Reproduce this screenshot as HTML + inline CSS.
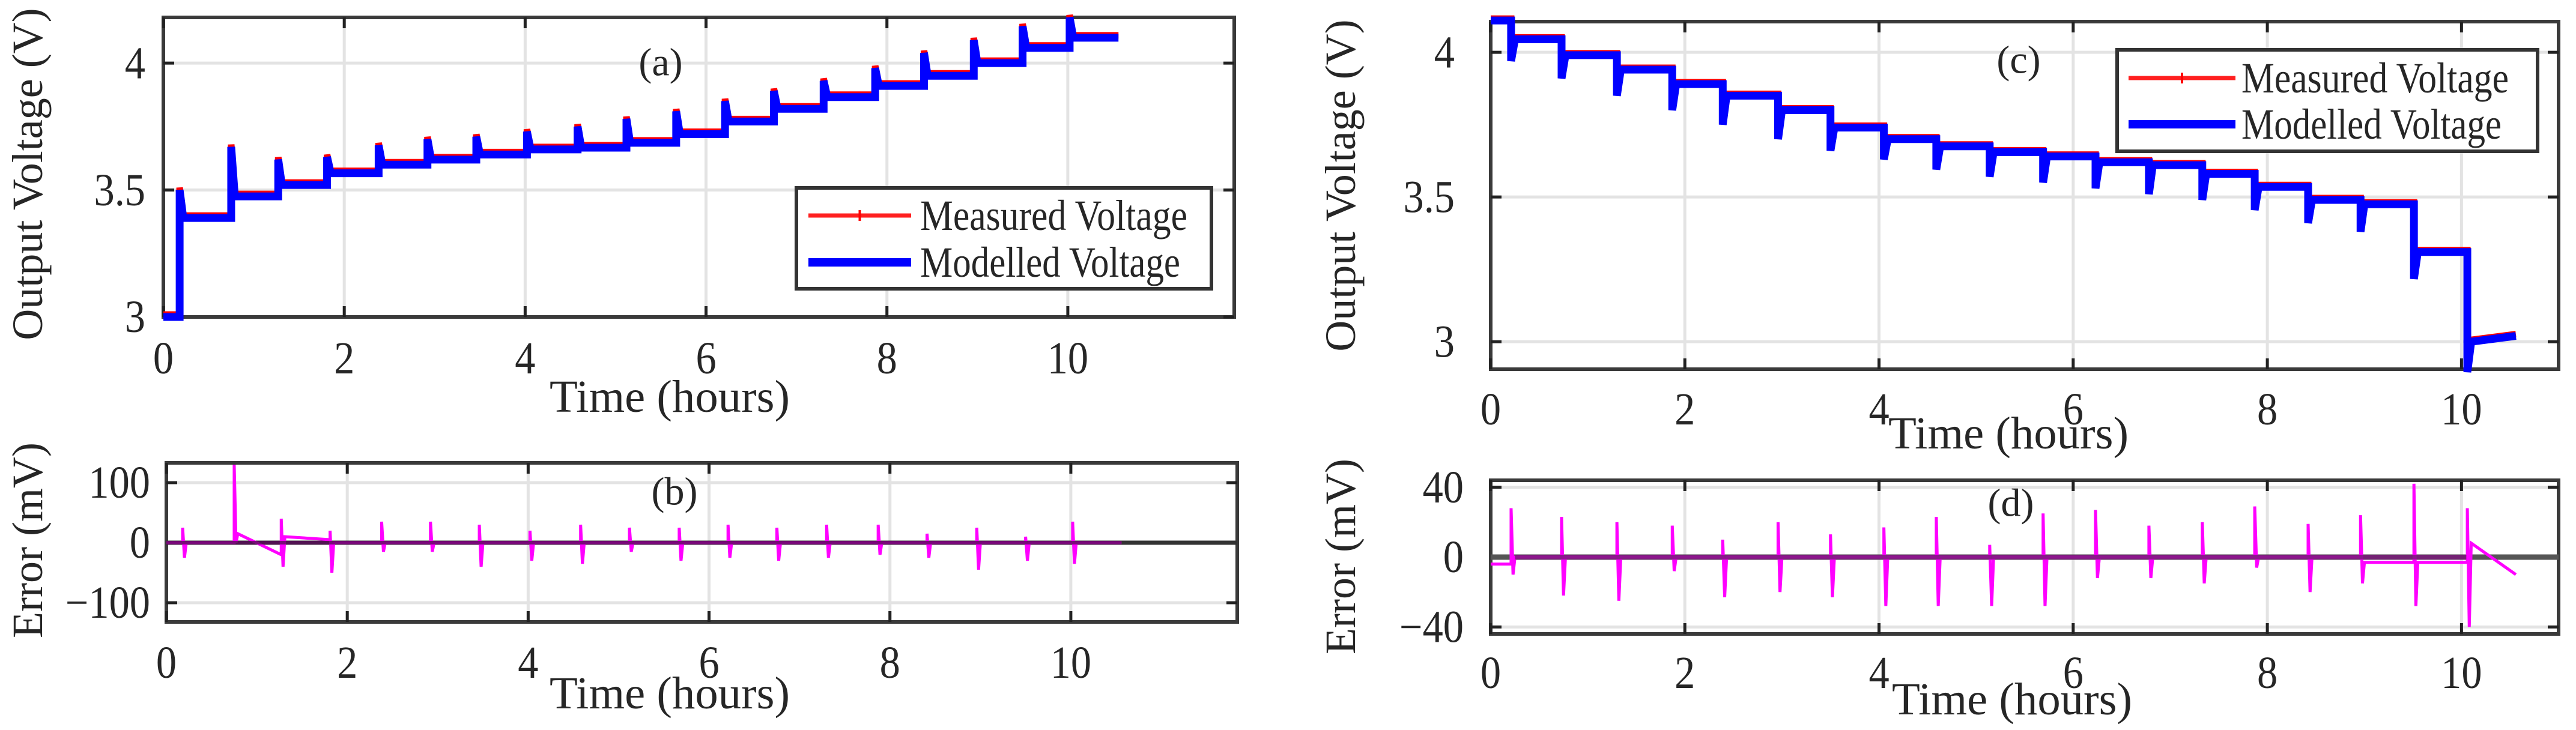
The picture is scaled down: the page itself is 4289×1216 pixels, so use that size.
<!DOCTYPE html>
<html><head><meta charset="utf-8"><style>
html,body{margin:0;padding:0;background:#fff;width:4289px;height:1216px;overflow:hidden}
svg text{font-family:"Liberation Serif",serif;fill:#262626}
</style></head><body>
<svg id="fig" width="4289" height="1216" viewBox="0 0 4289 1216" xmlns="http://www.w3.org/2000/svg"></svg>
<script>
// ---------- DATA ----------
// (a) charge test
const chgPulseTimes = [0.18,0.75,1.27,1.81,2.38,2.92,3.46,4.02,4.58,5.12,5.67,6.21,6.75,7.30,7.87,8.41,8.96,9.50,10.02];
const chgStartLevel = 3.0;
const chgPeakLevels = [3.50,3.67,3.62,3.63,3.676,3.70,3.71,3.73,3.75,3.78,3.81,3.85,3.89,3.93,3.98,4.04,4.09,4.145,4.18];
const chgRestLevels = [3.39,3.475,3.52,3.566,3.60,3.62,3.64,3.66,3.667,3.686,3.72,3.77,3.82,3.866,3.91,3.95,4.0,4.06,4.10];
const chgEndTime = 10.56;
// (b) charge error (mV)
const chgErrUp   = [25,130,40,20,35,35,30,20,30,25,25,30,25,30,30,15,25,10,35];
const chgErrDown = [-25,0,-40,-50,-15,-15,-40,-30,-35,-15,-30,-25,-30,-25,-20,-25,-45,-30,-35];
const chgErrAfter= [0,15,10,0,0,0,0,0,0,0,0,0,0,0,0,0,0,0,0];
const chgErrBefore=[0,0,-20,5,0,0,0,0,0,0,0,0,0,0,0,0,0,0,0];
// (c) discharge test
const disPulseTimes = [0.21,0.73,1.30,1.87,2.39,2.96,3.50,4.05,4.59,5.14,5.69,6.23,6.78,7.33,7.87,8.42,8.96,9.51,10.06];
const disStartLevel = 4.11;
const disDipLevels  = [3.97,3.91,3.85,3.80,3.75,3.70,3.66,3.63,3.595,3.57,3.55,3.53,3.51,3.49,3.455,3.41,3.38,3.217,2.895];
const disRestLevels = [4.045,3.99,3.94,3.89,3.85,3.80,3.74,3.70,3.675,3.655,3.64,3.62,3.61,3.58,3.535,3.49,3.475,3.31,3.0];
const disEndLevel = 3.02;
const disEndTime = 10.56;
// (d) discharge error (mV)
const disErrUp   = [28,23,20,18,10,20,13,17,23,7,25,27,18,20,29,19,24,42,28];
const disErrDown = [-10,-22,-25,-8,-23,-20,-23,-28,-28,-28,-28,-12,-12,-15,-6,-20,-15,-28,-40];
const disErrAfter= [0,0,0,0,0,0,0,0,0,0,0,0,0,0,0,0,-3,-3,8];
const disErrStart = -4;
const disErrEnd = -10;

const xTicks = [0,2,4,6,8,10];
const ticksA = [3,3.5,4], ticksB = [-100,0,100], ticksC = [3,3.5,4], ticksD = [-40,0,40];
const tickLabA = ['3','3.5','4'], tickLabB = ['\u2212100','0','100'], tickLabC = ['3','3.5','4'], tickLabD = ['\u221240','0','40'];

// ---------- DRAWING ----------
const NS='http://www.w3.org/2000/svg', svg=document.getElementById('fig');
function mk(tag,attrs,parent){const e=document.createElementNS(NS,tag);for(const k in attrs)e.setAttribute(k,attrs[k]);(parent||svg).appendChild(e);return e;}

function axes(cfg){
  const g=mk('g',{});
  
  
  const sx=v=>cfg.x0+(v-cfg.xmin)/(cfg.xmax-cfg.xmin)*(cfg.x1-cfg.x0);
  const sy=v=>cfg.y1-(v-cfg.ymin)/(cfg.ymax-cfg.ymin)*(cfg.y1-cfg.y0);
  xTicks.forEach(t=>{const l=mk('line',{x1:sx(t),x2:sx(t),y1:cfg.y0,y2:cfg.y1,stroke:'#e3e3e3','stroke-width':5},g);
    });
  cfg.yt.forEach(t=>{const l=mk('line',{x1:cfg.x0,x2:cfg.x1,y1:sy(t),y2:sy(t),stroke:'#e3e3e3','stroke-width':5},g);
    });
  return {g,sx,sy};
}
function frame(cfg,A){
  const g=A.g;
  const r=mk('rect',{x:cfg.x0,y:cfg.y0,width:cfg.x1-cfg.x0,height:cfg.y1-cfg.y0,fill:'none',stroke:'#3a3a3a','stroke-width':6},g);
  
  xTicks.forEach(t=>{
    mk('line',{x1:A.sx(t),x2:A.sx(t),y1:cfg.y1,y2:cfg.y1-18,stroke:'#222','stroke-width':5},g);
    mk('line',{x1:A.sx(t),x2:A.sx(t),y1:cfg.y0,y2:cfg.y0+18,stroke:'#222','stroke-width':5},g);
    const tx=mk('text',{x:0,y:0,'font-size':76,'text-anchor':'middle','dominant-baseline':'central',transform:`translate(${A.sx(t)},${cfg.xty}) scale(0.9,1)`},g);
    tx.textContent=String(t);
    
  });
  cfg.yt.forEach((t,i)=>{
    mk('line',{x1:cfg.x0,x2:cfg.x0+18,y1:A.sy(t),y2:A.sy(t),stroke:'#222','stroke-width':5},g);
    mk('line',{x1:cfg.x1,x2:cfg.x1-18,y1:A.sy(t),y2:A.sy(t),stroke:'#222','stroke-width':5},g);
    const tx=mk('text',{x:0,y:0,'font-size':76,'text-anchor':'end','dominant-baseline':'central',transform:`translate(${cfg.ytx},${A.sy(t)}) scale(0.9,1)`},g);
    tx.textContent=cfg.ytl[i];
    
  });
  const xl=mk('text',{x:cfg.xlx,y:cfg.xly,'font-size':76,'text-anchor':'middle','dominant-baseline':'central',textLength:400,lengthAdjust:'spacingAndGlyphs'},g);
  xl.textContent='Time (hours)';
  
  const yl=mk('text',{x:0,y:0,'font-size':72,'text-anchor':'middle','dominant-baseline':'central',fill:'#333',transform:`translate(${cfg.ylx},${cfg.yly}) rotate(-90)`},g);
  yl.textContent=cfg.ylabel;
  
  const an=mk('text',{x:cfg.anx,y:cfg.any,'font-size':66,'text-anchor':'middle','dominant-baseline':'central',fill:'#111'},g);
  an.textContent=cfg.ann;
  
}
function stepPath(A,times,start,extremes,rests,endT,endLevel,dx){
  let d=`M${A.sx(0)},${A.sy(start)}`;let prev=start;
  times.forEach((t,i)=>{d+=` L${A.sx(t)},${A.sy(prev)} L${A.sx(t)},${A.sy(extremes[i])} L${A.sx(t+dx)},${A.sy(rests[i])}`;prev=rests[i];});
  d+=` L${A.sx(endT)},${A.sy(endLevel===undefined?prev:endLevel)}`;return d;
}
function errPath(A,times,up,down,after,before,start,endT,endV){
  let d=`M${A.sx(0)},${A.sy(start)}`;let prev=start;
  times.forEach((t,i)=>{const b=before?before[i]:prev;
    d+=` L${A.sx(t)},${A.sy(b)} L${A.sx(t)},${A.sy(up[i])} L${A.sx(t+0.02)},${A.sy(down[i])} L${A.sx(t+0.04)},${A.sy(after[i])}`;prev=after[i];});
  d+=` L${A.sx(endT)},${A.sy(endV===undefined?prev:endV)}`;return d;
}
function legend(x,y,w,h,lx0,lx1,tx,r1,r2,tl){
  const g=mk('g',{});
  
  mk('rect',{x,y,width:w,height:h,fill:'#fff',stroke:'#333','stroke-width':6},g);
  const e1=mk('g',{},g);
  mk('line',{x1:lx0,x2:lx1,y1:r1,y2:r1,stroke:'#ff2020','stroke-width':7},e1);
  mk('line',{x1:(lx0+lx1)/2,x2:(lx0+lx1)/2,y1:r1-9,y2:r1+9,stroke:'#ff0000','stroke-width':4},e1);
  const t1=mk('text',{x:tx,y:r1,'font-size':72,'dominant-baseline':'central',textLength:tl,lengthAdjust:'spacingAndGlyphs',fill:'#111'},e1);t1.textContent='Measured Voltage';
  const e2=mk('g',{},g);
  mk('line',{x1:lx0,x2:lx1,y1:r2,y2:r2,stroke:'#0000ff','stroke-width':14},e2);
  const t2=mk('text',{x:tx,y:r2,'font-size':72,'dominant-baseline':'central',textLength:tl-12,lengthAdjust:'spacingAndGlyphs',fill:'#111'},e2);t2.textContent='Modelled Voltage';
}

// Panel (a)
const cA={name:'panel-a-charge-voltage',x0:272,x1:2055,xmin:0,xmax:11.84,y0:29,y1:528,ymin:3,ymax:4.18,yt:ticksA,ytl:tickLabA,xty:597,ytx:242,xlx:1115,xly:661,ylx:46,yly:290,ylabel:'Output Voltage (V)',ann:'(a)',anx:1100,any:104};
const A=axes(cA);
let p=mk('path',{d:stepPath(A,chgPulseTimes,chgStartLevel,chgPeakLevels,chgRestLevels,chgEndTime,undefined,0.04),fill:'none',stroke:'#ff0000','stroke-width':11,transform:'translate(0,-4)'});

p=mk('path',{d:stepPath(A,chgPulseTimes,chgStartLevel,chgPeakLevels,chgRestLevels,chgEndTime,undefined,0.04),fill:'none',stroke:'#0000ff','stroke-width':13});

frame(cA,A);
legend(1326,313,691,168,1346,1517,1532,359,437,445);

// Panel (b)
const cB={name:'panel-b-charge-error',x0:277,x1:2060,xmin:0,xmax:11.84,y0:771,y1:1036,ymin:-132,ymax:133,yt:ticksB,ytl:tickLabB,xty:1104,ytx:250,xlx:1115,xly:1155,ylx:46,yly:900,ylabel:'Error (mV)',ann:'(b)',anx:1123,any:819};
const B=axes(cB);
mk('line',{x1:cB.x0,x2:cB.x1,y1:B.sy(0),y2:B.sy(0),stroke:'#333','stroke-width':7});
p=mk('path',{d:errPath(B,chgPulseTimes,chgErrUp,chgErrDown,chgErrAfter,chgErrBefore,0,chgEndTime,0),fill:'none',stroke:'#ff00ff','stroke-width':5});

mk('line',{x1:cB.x0,x2:B.sx(chgEndTime),y1:B.sy(0),y2:B.sy(0),stroke:'#5a0a5a','stroke-width':6,opacity:0.8});
frame(cB,B);

// Panel (c)
const cC={name:'panel-c-discharge-voltage',x0:2482,x1:4260,xmin:0,xmax:11.0,y0:36,y1:615,ymin:2.905,ymax:4.106,yt:ticksC,ytl:tickLabC,xty:682,ytx:2422,xlx:3344,xly:722,ylx:2232,yly:309,ylabel:'Output Voltage (V)',ann:'(c)',anx:3361,any:100};
const C=axes(cC);
p=mk('path',{d:stepPath(C,disPulseTimes,disStartLevel,disDipLevels,disRestLevels,disEndTime,disEndLevel,0.04),fill:'none',stroke:'#ff0000','stroke-width':11,transform:'translate(0,-3)'});

p=mk('path',{d:stepPath(C,disPulseTimes,disStartLevel,disDipLevels,disRestLevels,disEndTime,disEndLevel,0.04),fill:'none',stroke:'#0000ff','stroke-width':13});

frame(cC,C);
legend(3525,83,700,169,3544,3722,3732,130,207,445);

// Panel (d)
const cD={name:'panel-d-discharge-error',x0:2482,x1:4260,xmin:0,xmax:11.0,y0:800,y1:1056,ymin:-44,ymax:44,yt:ticksD,ytl:tickLabD,xty:1121,ytx:2437,xlx:3350,xly:1165,ylx:2232,yly:927,ylabel:'Error (mV)',ann:'(d)',anx:3348,any:838};
const D=axes(cD);
mk('line',{x1:cD.x0,x2:cD.x1,y1:D.sy(0),y2:D.sy(0),stroke:'#555','stroke-width':9});
p=mk('path',{d:errPath(D,disPulseTimes,disErrUp,disErrDown,disErrAfter,null,disErrStart,disEndTime,disErrEnd),fill:'none',stroke:'#ff00ff','stroke-width':5});

mk('line',{x1:D.sx(0.25),x2:D.sx(10.05),y1:D.sy(0),y2:D.sy(0),stroke:'#7a1a7a','stroke-width':8,opacity:0.85});
frame(cD,D);
</script>
</body></html>
